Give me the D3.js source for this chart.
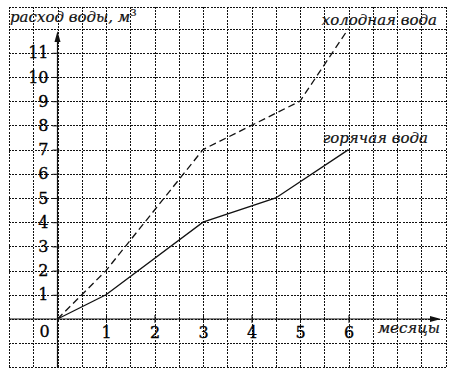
<!DOCTYPE html>
<html>
<head>
<meta charset="utf-8">
<script src="https://cdn.jsdelivr.net/npm/d3@7"></script>
<style>
  body { margin: 0; background: #fff; }
  svg { display: block; }
  .grid line { stroke: #111; stroke-width: 1; stroke-dasharray: 2 1.2; shape-rendering: crispEdges; }
  .tick text, .num { font-family: "DejaVu Serif", serif; font-size: 16px; fill: #000; stroke: #000; stroke-width: 0.3; }
  .lbl { font-family: "DejaVu Serif", serif; font-style: italic; font-size: 15px; fill: #111; stroke: #111; stroke-width: 0.2; }
</style>
</head>
<body>
<svg width="449" height="372"></svg>
<script>
// data
var hotMonths = [0, 1, 3, 4.5, 6];
var hotValues = [0, 1, 4, 5, 7];
var coldMonths = [0, 1, 3, 5, 6];
var coldValues = [0, 2, 7, 9, 12];
var xTicks = [1, 2, 3, 4, 5, 6];
var yTicks = [1, 2, 3, 4, 5, 6, 7, 8, 9, 10, 11];

var svg = d3.select('svg');

var x = d3.scaleLinear().domain([-1, 8]).range([9, 445.5]);
var y = d3.scaleLinear().domain([-2, 12.9]).range([367.4, 6.8]);

// dotted grid: half months across, whole m3 up
var gx = d3.range(-1, 8.01, 0.5);
var gy = d3.range(-2, 13, 1).concat([12.9]);
var grid = svg.append('g').attr('class', 'grid');
grid.selectAll('.v').data(gx).enter().append('line')
  .attr('x1', function(d) { return Math.round(x(d)) + 0.5; })
  .attr('x2', function(d) { return Math.round(x(d)) + 0.5; })
  .attr('y1', y(12.9)).attr('y2', y(-2));
grid.selectAll('.h').data(gy).enter().append('line')
  .attr('y1', function(d) { return Math.round(y(d)) + 0.5; })
  .attr('y2', function(d) { return Math.round(y(d)) + 0.5; })
  .attr('x1', x(-1)).attr('x2', x(8));

// axes
var axisX = d3.axisBottom(x).tickValues(xTicks).tickSizeInner(4).tickSizeOuter(0).tickPadding(4);
var axisY = d3.axisLeft(y).tickValues(yTicks).tickSizeInner(5).tickSizeOuter(0).tickPadding(4);

var gX = svg.append('g').attr('transform', 'translate(0,' + y(0) + ')').call(axisX);
gX.select('.domain').remove();
gX.selectAll('.tick line').attr('y1', -4).attr('stroke', '#111');

var gY = svg.append('g').attr('transform', 'translate(' + x(0) + ',0)').call(axisY);
gY.select('.domain').remove();
gY.selectAll('.tick line').attr('x2', -5).attr('x1', 2).attr('stroke', '#111');

svg.append('text').attr('class', 'num')
  .attr('x', x(0) - 13).attr('y', y(0) + 18)
  .attr('text-anchor', 'middle')
  .text('0');

// axis lines with arrows
svg.append('line').attr('x1', x(-1)).attr('x2', 438).attr('y1', y(0)).attr('y2', y(0))
  .attr('stroke', '#111').attr('stroke-width', 1.2);
svg.append('path').attr('d', 'M441,' + y(0) + 'l-11,-3l0,6z').attr('fill', '#111');
svg.append('line').attr('x1', x(0)).attr('x2', x(0)).attr('y1', y(-2)).attr('y2', 36)
  .attr('stroke', '#111').attr('stroke-width', 1.2);
svg.append('path').attr('d', 'M' + x(0) + ',31l-3,11l6,0z').attr('fill', '#111');

// series lines
var line = d3.line()
  .x(function(d) { return x(d[0]); })
  .y(function(d) { return y(d[1]); });

svg.append('path')
  .datum(d3.zip(coldMonths, coldValues))
  .attr('d', line)
  .attr('fill', 'none').attr('stroke', '#111').attr('stroke-width', 1.3)
  .attr('stroke-dasharray', '7 4');

svg.append('path')
  .datum(d3.zip(hotMonths, hotValues))
  .attr('d', line)
  .attr('fill', 'none').attr('stroke', '#111').attr('stroke-width', 1.3);

// labels
var title = svg.append('text').attr('class', 'lbl').attr('x', 10).attr('y', 22);
title.append('tspan').text('расход воды, м');
title.append('tspan').attr('dy', -6).style('font-size', '10px').style('font-style', 'normal').text('3');

svg.append('text').attr('class', 'lbl').attr('x', 437).attr('y', 25)
  .attr('text-anchor', 'end').text('холодная вода');
svg.append('text').attr('class', 'lbl').attr('x', 428).attr('y', 143)
  .attr('text-anchor', 'end').text('горячая вода');
svg.append('text').attr('class', 'lbl').attr('x', 440).attr('y', 333)
  .attr('text-anchor', 'end').text('месяцы');
</script>
</body>
</html>
